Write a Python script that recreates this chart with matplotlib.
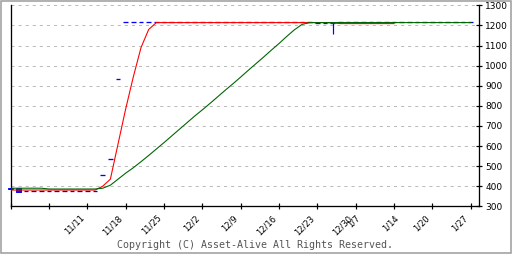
import matplotlib
matplotlib.use("Agg")
import matplotlib.pyplot as plt
from matplotlib.patches import Rectangle

# trading-day index 0..60
days = list(range(61))

# daily price (blue marks)
price_open = [385, 390, 378, 378, 378, 378, 378, 378, 378, 378,
              378, 378, 458, 537, 935, 1215, 1215, 1215, 1215, 1215,
              1215, 1215, 1215, 1215, 1215, 1215, 1215, 1215, 1215, 1215,
              1215, 1215, 1215, 1215, 1218, 1218, 1218, 1218, 1215, 1218,
              1210, 1210, 1210, 1215, 1215, 1215, 1215, 1215, 1215, 1215,
              1215, 1215, 1215, 1215, 1215, 1215, 1215, 1215, 1215, 1215,
              1215]
price_close = [392, 373, 378, 378, 378, 378, 378, 378, 378, 378,
               378, 378, 458, 537, 935, 1215, 1215, 1215, 1215, 1215,
               1215, 1215, 1215, 1215, 1215, 1215, 1215, 1215, 1215, 1215,
               1215, 1215, 1215, 1215, 1218, 1218, 1218, 1218, 1215, 1218,
               1210, 1210, 1210, 1215, 1215, 1215, 1215, 1215, 1215, 1215,
               1215, 1215, 1215, 1215, 1215, 1215, 1215, 1215, 1215, 1215,
               1215]
price_low = [385, 373, 378, 378, 378, 378, 378, 378, 378, 378,
             378, 378, 458, 537, 935, 1215, 1215, 1215, 1215, 1215,
             1215, 1215, 1215, 1215, 1215, 1215, 1215, 1215, 1215, 1215,
             1215, 1215, 1215, 1215, 1218, 1218, 1218, 1218, 1215, 1218,
             1210, 1210, 1156, 1215, 1215, 1215, 1215, 1215, 1215, 1215,
             1215, 1215, 1215, 1215, 1215, 1215, 1215, 1215, 1215, 1215,
             1215]

# short moving average (red), days 0..50
ma_short = [381, 381, 381, 381, 381, 381, 381, 381, 381, 381,
            381, 381, 400, 435, 610, 785, 945, 1090, 1180, 1214,
            1214, 1214, 1214, 1214, 1214, 1214, 1214, 1214, 1214, 1214,
            1214, 1214, 1214, 1214, 1214, 1214, 1214, 1214, 1214, 1214,
            1214, 1214, 1212, 1209, 1209, 1209, 1209, 1209, 1209, 1209,
            1209]

# long moving average (green), days 0..60
ma_long = [390, 390, 390, 390, 390, 386, 386, 386, 386, 386,
           386, 386, 390, 405, 435, 465, 492, 522, 553, 585,
           617, 650, 683, 716, 749, 780, 812, 845, 878, 910,
           943, 977, 1010, 1043, 1077, 1110, 1145, 1178, 1205, 1214,
           1214, 1214, 1214, 1214, 1214, 1214, 1214, 1214, 1214, 1214,
           1214, 1214, 1214, 1214, 1214, 1214, 1214, 1214, 1214, 1214,
           1214]

label_days = [9, 14, 19, 24, 29, 34, 39, 44, 45, 50, 54, 59]
label_text = ["11/11", "11/18", "11/25", "12/2", "12/9", "12/16",
              "12/23", "12/30", "1/7", "1/14", "1/20", "1/27"]

PX = 0.72  # one pixel in points at dpi 100
plt.rcParams["lines.scale_dashes"] = False

fig = plt.figure(figsize=(5.12, 2.56), dpi=100)
ax = fig.add_axes([10.7 / 512, 49.7 / 256, 468.6 / 512, 201.0 / 256])

blue = "#0000ff"
w = 0.62
for d, o, c, lo in zip(days, price_open, price_close, price_low):
    if lo < min(o, c):
        ax.vlines(d, lo, min(o, c), color=blue, lw=1.2 * PX, zorder=2, clip_on=False)
    if o == c:
        ax.hlines(c, d - w / 2, d + w / 2, color=blue, lw=1.3 * PX, zorder=2, clip_on=False)
    else:
        ax.bar(d, abs(c - o), bottom=min(o, c), width=w,
               facecolor="white" if c > o else blue, edgecolor=blue,
               lw=1.0 * PX, zorder=2, clip_on=False)

ax.plot(days[:len(ma_short)], ma_short, color="#ff0000", lw=1.1 * PX, zorder=3)
ax.plot(days, ma_long, color="#006400", lw=1.1 * PX, zorder=4)

ax.set_xlim(0, 61.12)
ax.set_ylim(300, 1300)

ax.yaxis.grid(True, color="#bbbbbb", lw=1.0 * PX, linestyle=(0, (2.2, 2.9)))
ax.set_axisbelow(True)

for s in ["left", "right", "bottom"]:
    ax.spines[s].set_linewidth(1.3 * PX)
    ax.spines[s].set_color("black")
ax.spines["top"].set_visible(False)

ax.yaxis.tick_right()
ax.set_yticks(range(300, 1301, 100))
ax.tick_params(axis="y", direction="inout", length=6 * PX, width=1.2 * PX,
               labelsize=6.5, pad=2)

ax.set_xticks(range(0, 61, 5))
ax.tick_params(axis="x", which="major", direction="inout", length=6 * PX,
               width=1.2 * PX, labelbottom=False)
ax.xaxis.remove_overlapping_locs = False
ax.set_xticks(label_days, labels=label_text, minor=True)
ax.tick_params(axis="x", which="minor", length=0, labelsize=6, pad=5)
for lbl in ax.get_xticklabels(minor=True):
    lbl.set_rotation(45)
    lbl.set_ha("right")
    lbl.set_va("top")
    lbl.set_rotation_mode("anchor")

fig.text(0.498, 0.043, "Copyright (C) Asset-Alive All Rights Reserved.",
         family="DejaVu Sans Mono", fontsize=7.2, color="#555555",
         ha="center", va="center")

fig.patches.append(Rectangle((0.5 / 512, 3.5 / 256), 510.5 / 512, 252 / 256,
                             transform=fig.transFigure, fill=False,
                             edgecolor="#999999", lw=1.5 * PX))

fig.savefig("out.png", dpi=100)
